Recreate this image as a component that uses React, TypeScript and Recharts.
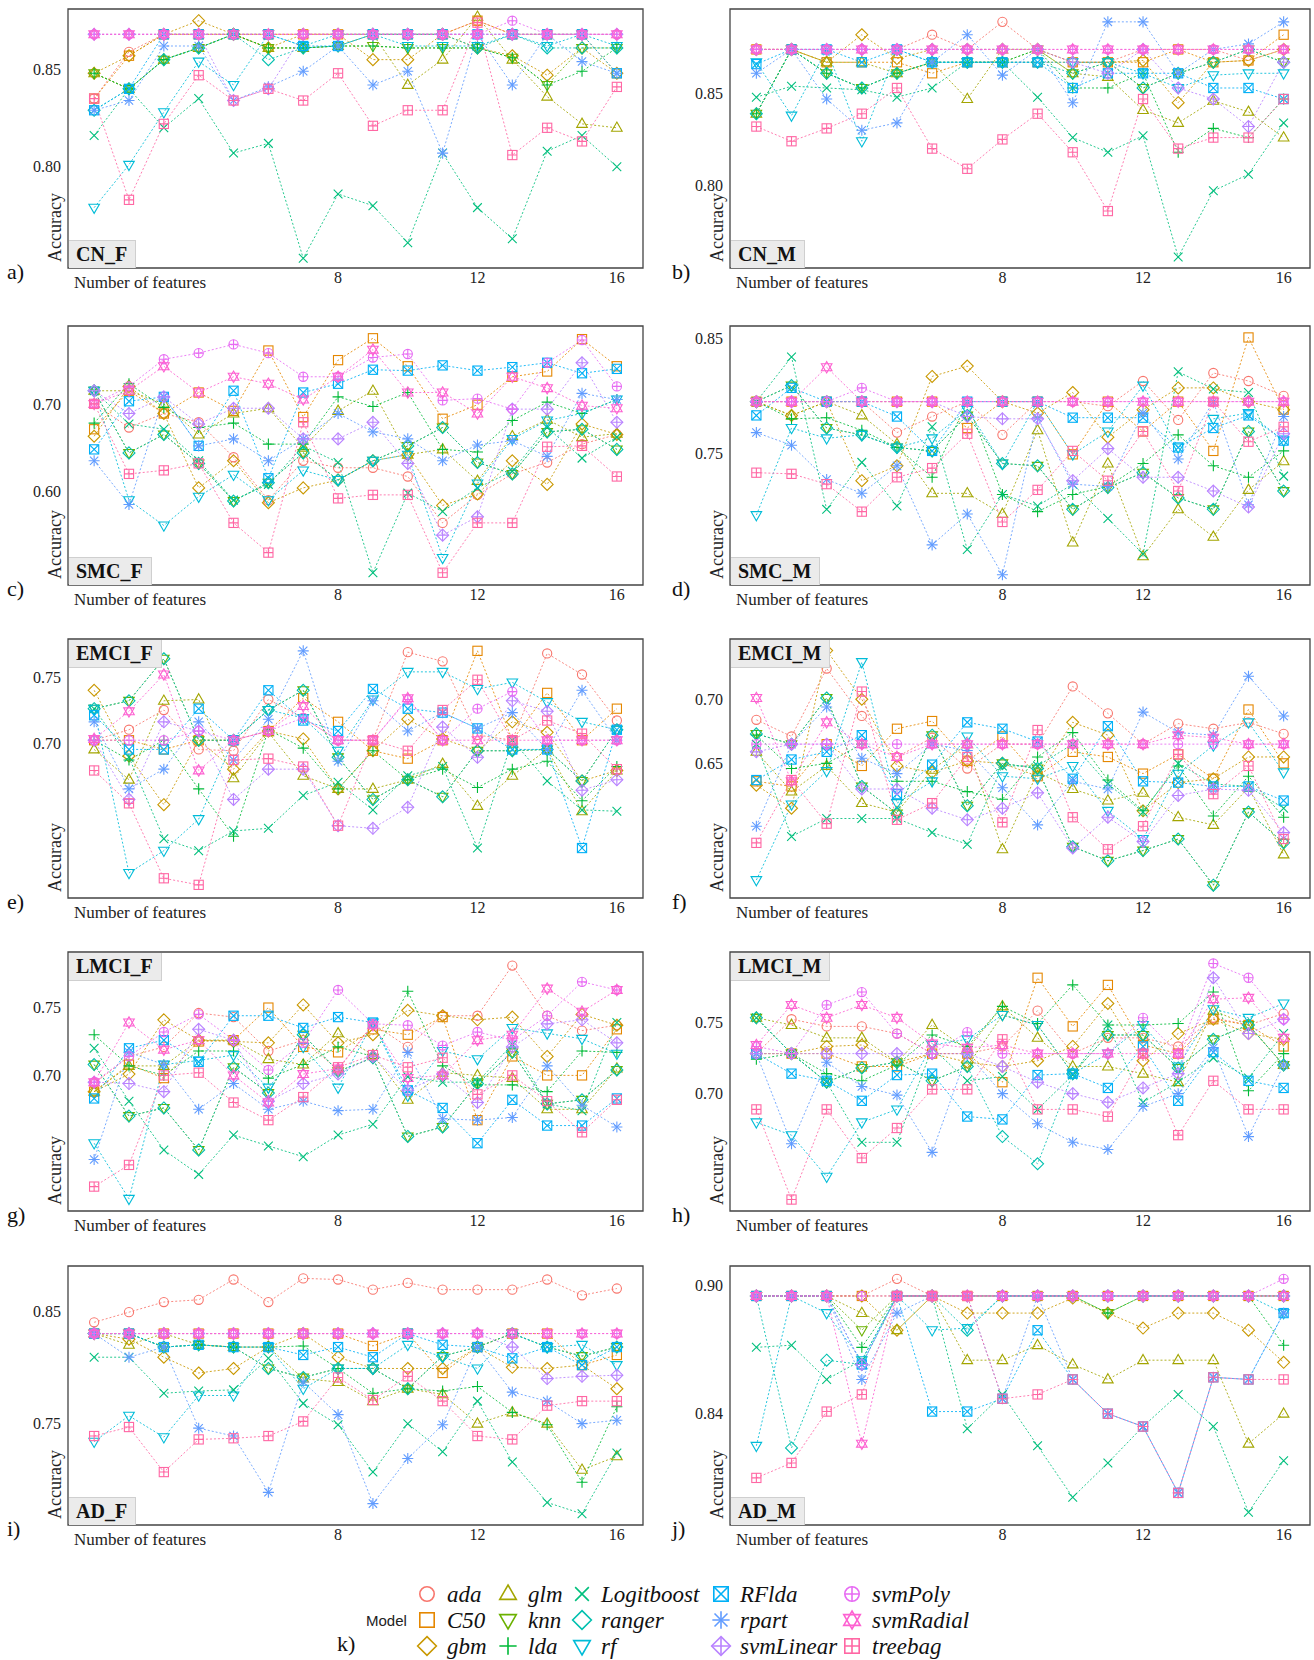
import React from "react"
import { LineChart, Line, XAxis, YAxis, ReferenceArea } from "recharts"

const MODELS = ["ada", "C50", "gbm", "glm", "knn", "lda", "Logitboost", "ranger", "rf", "RFlda", "rpart", "svmLinear", "svmPoly", "svmRadial", "treebag"]
const COLORS = ["#F8766D", "#E58700", "#C99800", "#A3A500", "#6BB100", "#00BA38", "#00BF7D", "#00C0AF", "#00BCD8", "#00B0F6", "#619CFF", "#B983FF", "#E76BF3", "#FD61D1", "#FF67A4"]
const SHAPES = ["circle", "square", "diamond", "triUp", "triDown", "plus", "cross", "diamond", "triDown", "squareX", "asterisk", "diamondPlus", "circlePlus", "star", "squarePlus"]
const FEATURES = [1, 2, 3, 4, 5, 6, 7, 8, 9, 10, 11, 12, 13, 14, 15, 16]
const X_TICKS = [8, 12, 16]

// accuracy per model (rows in MODELS order), one column per number of features
const CN_F = [
  [0.835, 0.859, 0.868, 0.868, 0.868, 0.868, 0.868, 0.868, 0.868, 0.868, 0.868, 0.875, 0.868, 0.868, 0.868, 0.868],
  [0.835, 0.857, 0.868, 0.868, 0.868, 0.868, 0.868, 0.868, 0.868, 0.868, 0.868, 0.875, 0.868, 0.868, 0.868, 0.848],
  [0.848, 0.857, 0.868, 0.875, 0.868, 0.861, 0.868, 0.868, 0.855, 0.855, 0.868, 0.861, 0.857, 0.847, 0.861, 0.848],
  [0.848, 0.840, 0.855, 0.861, 0.868, 0.861, 0.861, 0.862, 0.868, 0.842, 0.855, 0.877, 0.855, 0.836, 0.822, 0.820],
  [0.848, 0.840, 0.855, 0.861, 0.868, 0.861, 0.861, 0.862, 0.862, 0.861, 0.861, 0.861, 0.856, 0.842, 0.861, 0.861],
  [0.848, 0.840, 0.855, 0.861, 0.868, 0.861, 0.861, 0.862, 0.862, 0.861, 0.861, 0.861, 0.856, 0.842, 0.849, 0.861],
  [0.816, 0.840, 0.820, 0.835, 0.807, 0.812, 0.753, 0.786, 0.780, 0.761, 0.807, 0.779, 0.763, 0.808, 0.816, 0.800],
  [0.829, 0.840, 0.855, 0.861, 0.868, 0.855, 0.861, 0.862, 0.868, 0.868, 0.868, 0.861, 0.868, 0.861, 0.861, 0.861],
  [0.779, 0.801, 0.828, 0.854, 0.842, 0.868, 0.862, 0.868, 0.868, 0.862, 0.862, 0.862, 0.868, 0.862, 0.868, 0.862],
  [0.829, 0.840, 0.868, 0.868, 0.868, 0.868, 0.862, 0.862, 0.868, 0.868, 0.868, 0.868, 0.868, 0.868, 0.868, 0.848],
  [0.829, 0.834, 0.862, 0.862, 0.834, 0.841, 0.849, 0.862, 0.842, 0.849, 0.807, 0.868, 0.842, 0.868, 0.854, 0.848],
  [0.868, 0.868, 0.868, 0.868, 0.834, 0.840, 0.868, 0.868, 0.868, 0.868, 0.868, 0.868, 0.868, 0.868, 0.868, 0.868],
  [0.868, 0.868, 0.868, 0.868, 0.868, 0.868, 0.868, 0.868, 0.868, 0.868, 0.868, 0.868, 0.875, 0.868, 0.868, 0.868],
  [0.868, 0.868, 0.868, 0.868, 0.868, 0.868, 0.868, 0.868, 0.868, 0.868, 0.868, 0.868, 0.868, 0.868, 0.868, 0.868],
  [0.835, 0.783, 0.822, 0.847, 0.834, 0.840, 0.834, 0.848, 0.821, 0.829, 0.829, 0.874, 0.806, 0.820, 0.813, 0.841],
]

const CN_M = [
  [0.874, 0.874, 0.874, 0.874, 0.874, 0.882, 0.874, 0.889, 0.874, 0.867, 0.867, 0.874, 0.874, 0.874, 0.868, 0.874],
  [0.874, 0.874, 0.867, 0.867, 0.867, 0.861, 0.867, 0.867, 0.867, 0.867, 0.867, 0.867, 0.874, 0.867, 0.868, 0.882],
  [0.874, 0.874, 0.867, 0.882, 0.869, 0.874, 0.874, 0.874, 0.874, 0.867, 0.867, 0.868, 0.845, 0.867, 0.868, 0.874],
  [0.839, 0.874, 0.867, 0.867, 0.861, 0.867, 0.847, 0.874, 0.874, 0.861, 0.859, 0.841, 0.834, 0.846, 0.840, 0.826],
  [0.839, 0.874, 0.861, 0.853, 0.861, 0.867, 0.867, 0.867, 0.874, 0.861, 0.867, 0.853, 0.861, 0.867, 0.874, 0.867],
  [0.839, 0.874, 0.861, 0.853, 0.861, 0.867, 0.867, 0.867, 0.874, 0.853, 0.853, 0.861, 0.818, 0.831, 0.826, 0.847],
  [0.848, 0.854, 0.853, 0.852, 0.848, 0.853, 0.867, 0.867, 0.848, 0.826, 0.818, 0.827, 0.761, 0.797, 0.806, 0.834],
  [0.839, 0.874, 0.861, 0.853, 0.861, 0.867, 0.867, 0.867, 0.867, 0.861, 0.867, 0.853, 0.861, 0.867, 0.874, 0.867],
  [0.867, 0.838, 0.874, 0.824, 0.874, 0.867, 0.867, 0.867, 0.867, 0.867, 0.867, 0.861, 0.853, 0.860, 0.861, 0.861],
  [0.866, 0.874, 0.874, 0.867, 0.874, 0.867, 0.867, 0.867, 0.867, 0.853, 0.861, 0.861, 0.861, 0.853, 0.853, 0.847],
  [0.861, 0.874, 0.847, 0.830, 0.834, 0.867, 0.882, 0.860, 0.874, 0.845, 0.889, 0.889, 0.861, 0.874, 0.877, 0.889],
  [0.874, 0.874, 0.874, 0.874, 0.874, 0.874, 0.874, 0.874, 0.874, 0.867, 0.861, 0.874, 0.853, 0.847, 0.832, 0.867],
  [0.874, 0.874, 0.874, 0.874, 0.874, 0.874, 0.874, 0.874, 0.874, 0.874, 0.874, 0.874, 0.874, 0.874, 0.874, 0.874],
  [0.874, 0.874, 0.874, 0.874, 0.874, 0.874, 0.874, 0.874, 0.874, 0.874, 0.874, 0.874, 0.874, 0.874, 0.874, 0.874],
  [0.832, 0.824, 0.831, 0.839, 0.853, 0.820, 0.809, 0.825, 0.839, 0.818, 0.786, 0.847, 0.820, 0.826, 0.826, 0.847],
]

const SMC_F = [
  [0.700, 0.673, 0.689, 0.679, 0.639, 0.590, 0.635, 0.627, 0.627, 0.617, 0.564, 0.596, 0.620, 0.633, 0.654, 0.665],
  [0.671, 0.715, 0.689, 0.713, 0.692, 0.761, 0.685, 0.750, 0.775, 0.743, 0.683, 0.699, 0.731, 0.737, 0.774, 0.743],
  [0.663, 0.720, 0.689, 0.604, 0.635, 0.587, 0.604, 0.613, 0.635, 0.642, 0.584, 0.597, 0.635, 0.608, 0.677, 0.665],
  [0.715, 0.715, 0.700, 0.665, 0.689, 0.695, 0.650, 0.692, 0.715, 0.642, 0.648, 0.612, 0.663, 0.682, 0.662, 0.666],
  [0.715, 0.644, 0.665, 0.632, 0.589, 0.610, 0.644, 0.613, 0.635, 0.652, 0.673, 0.633, 0.620, 0.668, 0.671, 0.648],
  [0.678, 0.723, 0.696, 0.673, 0.678, 0.654, 0.654, 0.708, 0.697, 0.713, 0.648, 0.645, 0.681, 0.702, 0.689, 0.705],
  [0.715, 0.677, 0.671, 0.635, 0.590, 0.608, 0.652, 0.633, 0.507, 0.598, 0.577, 0.604, 0.623, 0.673, 0.638, 0.662],
  [0.715, 0.644, 0.665, 0.632, 0.589, 0.610, 0.644, 0.613, 0.635, 0.652, 0.673, 0.633, 0.620, 0.668, 0.671, 0.648],
  [0.715, 0.590, 0.561, 0.594, 0.619, 0.590, 0.624, 0.613, 0.635, 0.642, 0.524, 0.609, 0.660, 0.681, 0.689, 0.705],
  [0.648, 0.703, 0.708, 0.652, 0.715, 0.615, 0.713, 0.723, 0.739, 0.738, 0.744, 0.738, 0.742, 0.747, 0.735, 0.740],
  [0.635, 0.585, 0.708, 0.652, 0.660, 0.635, 0.660, 0.689, 0.668, 0.660, 0.635, 0.653, 0.658, 0.640, 0.712, 0.705],
  [0.715, 0.689, 0.708, 0.677, 0.695, 0.695, 0.660, 0.660, 0.679, 0.632, 0.550, 0.571, 0.694, 0.694, 0.747, 0.679],
  [0.700, 0.720, 0.751, 0.758, 0.768, 0.758, 0.731, 0.731, 0.753, 0.757, 0.704, 0.706, 0.694, 0.747, 0.773, 0.720],
  [0.700, 0.715, 0.743, 0.713, 0.731, 0.723, 0.705, 0.731, 0.762, 0.713, 0.713, 0.689, 0.731, 0.718, 0.698, 0.695],
  [0.700, 0.620, 0.624, 0.632, 0.564, 0.530, 0.679, 0.592, 0.596, 0.596, 0.507, 0.564, 0.564, 0.651, 0.652, 0.617],
]

const SMC_M = [
  [0.795, 0.795, 0.795, 0.795, 0.768, 0.782, 0.795, 0.766, 0.795, 0.795, 0.791, 0.813, 0.779, 0.820, 0.813, 0.800],
  [0.795, 0.795, 0.795, 0.795, 0.795, 0.795, 0.772, 0.795, 0.795, 0.749, 0.795, 0.769, 0.795, 0.752, 0.851, 0.788],
  [0.795, 0.783, 0.795, 0.726, 0.739, 0.817, 0.826, 0.795, 0.785, 0.803, 0.764, 0.788, 0.807, 0.807, 0.795, 0.788],
  [0.795, 0.783, 0.795, 0.783, 0.758, 0.715, 0.715, 0.697, 0.770, 0.672, 0.741, 0.660, 0.701, 0.677, 0.718, 0.743],
  [0.795, 0.809, 0.772, 0.766, 0.755, 0.752, 0.783, 0.741, 0.739, 0.701, 0.720, 0.733, 0.711, 0.701, 0.769, 0.717],
  [0.795, 0.780, 0.781, 0.770, 0.755, 0.729, 0.795, 0.714, 0.699, 0.714, 0.721, 0.741, 0.766, 0.739, 0.729, 0.752],
  [0.795, 0.834, 0.701, 0.742, 0.704, 0.773, 0.666, 0.714, 0.704, 0.723, 0.693, 0.662, 0.821, 0.806, 0.803, 0.730],
  [0.795, 0.809, 0.772, 0.766, 0.755, 0.752, 0.783, 0.741, 0.739, 0.701, 0.720, 0.733, 0.711, 0.701, 0.769, 0.717],
  [0.696, 0.772, 0.763, 0.766, 0.755, 0.763, 0.788, 0.741, 0.795, 0.749, 0.769, 0.809, 0.755, 0.780, 0.785, 0.761],
  [0.783, 0.807, 0.795, 0.795, 0.782, 0.752, 0.795, 0.795, 0.795, 0.781, 0.781, 0.781, 0.755, 0.772, 0.783, 0.761],
  [0.768, 0.757, 0.727, 0.715, 0.739, 0.670, 0.697, 0.644, 0.781, 0.723, 0.721, 0.785, 0.745, 0.795, 0.705, 0.782],
  [0.795, 0.795, 0.795, 0.795, 0.795, 0.795, 0.782, 0.780, 0.780, 0.726, 0.754, 0.729, 0.729, 0.717, 0.703, 0.767],
  [0.795, 0.795, 0.795, 0.807, 0.795, 0.795, 0.795, 0.795, 0.795, 0.795, 0.795, 0.795, 0.795, 0.795, 0.795, 0.795],
  [0.795, 0.795, 0.825, 0.795, 0.795, 0.795, 0.795, 0.795, 0.795, 0.795, 0.795, 0.795, 0.795, 0.795, 0.795, 0.795],
  [0.733, 0.732, 0.723, 0.699, 0.729, 0.737, 0.767, 0.690, 0.718, 0.752, 0.726, 0.769, 0.717, 0.795, 0.760, 0.773],
]

const EMCI_F = [
  [0.702, 0.710, 0.725, 0.695, 0.694, 0.733, 0.719, 0.702, 0.702, 0.769, 0.762, 0.706, 0.702, 0.768, 0.752, 0.717],
  [0.702, 0.702, 0.695, 0.702, 0.702, 0.709, 0.734, 0.716, 0.694, 0.688, 0.702, 0.770, 0.702, 0.738, 0.702, 0.726],
  [0.740, 0.690, 0.653, 0.702, 0.680, 0.709, 0.703, 0.665, 0.694, 0.718, 0.703, 0.694, 0.716, 0.708, 0.671, 0.679],
  [0.695, 0.672, 0.732, 0.733, 0.673, 0.708, 0.675, 0.665, 0.665, 0.672, 0.684, 0.652, 0.675, 0.695, 0.648, 0.679],
  [0.726, 0.732, 0.764, 0.702, 0.702, 0.725, 0.740, 0.689, 0.657, 0.672, 0.659, 0.694, 0.694, 0.695, 0.671, 0.710],
  [0.702, 0.687, 0.702, 0.665, 0.629, 0.710, 0.696, 0.665, 0.694, 0.672, 0.680, 0.666, 0.680, 0.686, 0.656, 0.682],
  [0.726, 0.689, 0.627, 0.618, 0.633, 0.635, 0.660, 0.670, 0.649, 0.675, 0.682, 0.620, 0.702, 0.671, 0.649, 0.648],
  [0.726, 0.732, 0.764, 0.702, 0.702, 0.725, 0.740, 0.689, 0.657, 0.672, 0.659, 0.694, 0.694, 0.695, 0.671, 0.710],
  [0.726, 0.601, 0.618, 0.642, 0.702, 0.725, 0.719, 0.694, 0.733, 0.754, 0.754, 0.741, 0.746, 0.731, 0.716, 0.710],
  [0.721, 0.695, 0.695, 0.726, 0.702, 0.740, 0.717, 0.709, 0.741, 0.726, 0.723, 0.711, 0.695, 0.695, 0.620, 0.710],
  [0.716, 0.665, 0.680, 0.716, 0.687, 0.718, 0.770, 0.686, 0.732, 0.709, 0.723, 0.711, 0.723, 0.695, 0.740, 0.702],
  [0.702, 0.657, 0.716, 0.709, 0.657, 0.680, 0.680, 0.637, 0.635, 0.651, 0.712, 0.689, 0.732, 0.724, 0.664, 0.672],
  [0.702, 0.702, 0.702, 0.709, 0.702, 0.709, 0.719, 0.702, 0.702, 0.733, 0.702, 0.726, 0.739, 0.702, 0.702, 0.702],
  [0.703, 0.724, 0.752, 0.679, 0.702, 0.709, 0.728, 0.702, 0.702, 0.734, 0.702, 0.702, 0.702, 0.702, 0.702, 0.702],
  [0.679, 0.654, 0.597, 0.592, 0.687, 0.688, 0.682, 0.637, 0.702, 0.694, 0.725, 0.748, 0.702, 0.717, 0.707, 0.680],
]

const EMCI_M = [
  [0.684, 0.671, 0.724, 0.687, 0.655, 0.670, 0.646, 0.665, 0.665, 0.710, 0.689, 0.665, 0.681, 0.677, 0.682, 0.673],
  [0.636, 0.632, 0.665, 0.648, 0.677, 0.683, 0.652, 0.671, 0.640, 0.659, 0.655, 0.642, 0.657, 0.638, 0.692, 0.650],
  [0.633, 0.615, 0.738, 0.700, 0.648, 0.643, 0.652, 0.650, 0.640, 0.682, 0.672, 0.613, 0.635, 0.638, 0.655, 0.655],
  [0.659, 0.628, 0.648, 0.619, 0.612, 0.645, 0.665, 0.583, 0.643, 0.630, 0.621, 0.627, 0.608, 0.602, 0.631, 0.579],
  [0.673, 0.665, 0.701, 0.632, 0.611, 0.672, 0.617, 0.650, 0.646, 0.585, 0.574, 0.582, 0.591, 0.555, 0.612, 0.588],
  [0.672, 0.646, 0.650, 0.665, 0.636, 0.636, 0.628, 0.622, 0.655, 0.674, 0.637, 0.613, 0.648, 0.609, 0.640, 0.608],
  [0.665, 0.593, 0.607, 0.607, 0.607, 0.596, 0.587, 0.648, 0.648, 0.665, 0.634, 0.612, 0.650, 0.634, 0.632, 0.615],
  [0.673, 0.665, 0.701, 0.632, 0.611, 0.672, 0.617, 0.650, 0.646, 0.585, 0.574, 0.582, 0.591, 0.555, 0.612, 0.588],
  [0.559, 0.618, 0.644, 0.729, 0.619, 0.636, 0.671, 0.640, 0.638, 0.648, 0.613, 0.591, 0.642, 0.664, 0.682, 0.643],
  [0.637, 0.653, 0.659, 0.672, 0.626, 0.649, 0.682, 0.677, 0.667, 0.638, 0.679, 0.636, 0.635, 0.632, 0.632, 0.621],
  [0.601, 0.665, 0.694, 0.654, 0.642, 0.665, 0.660, 0.631, 0.602, 0.636, 0.630, 0.690, 0.674, 0.672, 0.718, 0.687],
  [0.659, 0.665, 0.665, 0.630, 0.630, 0.615, 0.606, 0.615, 0.627, 0.584, 0.608, 0.589, 0.625, 0.630, 0.629, 0.596],
  [0.665, 0.665, 0.665, 0.665, 0.665, 0.665, 0.665, 0.665, 0.665, 0.665, 0.665, 0.665, 0.665, 0.665, 0.665, 0.665],
  [0.701, 0.636, 0.682, 0.665, 0.655, 0.665, 0.665, 0.665, 0.665, 0.665, 0.665, 0.665, 0.672, 0.670, 0.665, 0.665],
  [0.588, 0.637, 0.603, 0.706, 0.606, 0.619, 0.655, 0.604, 0.676, 0.608, 0.583, 0.601, 0.657, 0.626, 0.648, 0.591],
]

const LMCI_F = [
  [0.694, 0.714, 0.721, 0.746, 0.743, 0.718, 0.726, 0.704, 0.738, 0.721, 0.744, 0.744, 0.781, 0.744, 0.733, 0.737],
  [0.688, 0.708, 0.698, 0.725, 0.726, 0.750, 0.721, 0.717, 0.734, 0.730, 0.743, 0.667, 0.714, 0.700, 0.700, 0.734],
  [0.688, 0.701, 0.741, 0.726, 0.725, 0.724, 0.752, 0.724, 0.730, 0.748, 0.744, 0.741, 0.743, 0.714, 0.745, 0.737],
  [0.688, 0.707, 0.707, 0.726, 0.726, 0.712, 0.708, 0.731, 0.715, 0.682, 0.702, 0.700, 0.698, 0.675, 0.675, 0.705],
  [0.708, 0.670, 0.676, 0.645, 0.706, 0.687, 0.730, 0.703, 0.713, 0.655, 0.662, 0.694, 0.717, 0.679, 0.682, 0.704],
  [0.730, 0.707, 0.700, 0.718, 0.718, 0.698, 0.708, 0.721, 0.714, 0.762, 0.707, 0.693, 0.693, 0.688, 0.718, 0.717],
  [0.720, 0.681, 0.645, 0.627, 0.656, 0.648, 0.640, 0.656, 0.664, 0.699, 0.695, 0.695, 0.723, 0.679, 0.674, 0.739],
  [0.708, 0.670, 0.676, 0.645, 0.706, 0.687, 0.730, 0.703, 0.713, 0.655, 0.662, 0.694, 0.717, 0.679, 0.682, 0.704],
  [0.650, 0.609, 0.708, 0.711, 0.715, 0.691, 0.721, 0.691, 0.739, 0.685, 0.718, 0.712, 0.735, 0.731, 0.727, 0.716],
  [0.683, 0.720, 0.726, 0.710, 0.744, 0.744, 0.735, 0.743, 0.739, 0.689, 0.676, 0.650, 0.682, 0.663, 0.663, 0.683],
  [0.638, 0.717, 0.708, 0.675, 0.694, 0.675, 0.681, 0.674, 0.675, 0.717, 0.668, 0.667, 0.669, 0.707, 0.678, 0.662],
  [0.695, 0.694, 0.688, 0.734, 0.726, 0.681, 0.694, 0.701, 0.714, 0.689, 0.701, 0.680, 0.721, 0.738, 0.741, 0.724],
  [0.695, 0.714, 0.732, 0.745, 0.726, 0.704, 0.724, 0.763, 0.738, 0.737, 0.722, 0.732, 0.726, 0.744, 0.769, 0.763],
  [0.695, 0.739, 0.719, 0.726, 0.700, 0.680, 0.701, 0.705, 0.737, 0.698, 0.700, 0.726, 0.730, 0.764, 0.747, 0.763],
  [0.618, 0.634, 0.700, 0.702, 0.680, 0.667, 0.684, 0.706, 0.715, 0.706, 0.713, 0.686, 0.700, 0.681, 0.658, 0.682],
]

const LMCI_M = [
  [0.728, 0.752, 0.747, 0.747, 0.742, 0.728, 0.728, 0.733, 0.758, 0.728, 0.739, 0.739, 0.733, 0.753, 0.748, 0.756],
  [0.728, 0.728, 0.728, 0.719, 0.719, 0.728, 0.728, 0.708, 0.781, 0.747, 0.776, 0.734, 0.728, 0.752, 0.748, 0.733],
  [0.728, 0.728, 0.733, 0.734, 0.722, 0.728, 0.722, 0.719, 0.723, 0.733, 0.763, 0.723, 0.742, 0.752, 0.742, 0.738],
  [0.753, 0.748, 0.739, 0.739, 0.722, 0.748, 0.731, 0.761, 0.739, 0.719, 0.719, 0.714, 0.708, 0.758, 0.748, 0.720],
  [0.753, 0.728, 0.708, 0.718, 0.722, 0.709, 0.719, 0.755, 0.748, 0.714, 0.741, 0.741, 0.718, 0.738, 0.748, 0.720],
  [0.724, 0.728, 0.714, 0.709, 0.720, 0.741, 0.733, 0.761, 0.749, 0.776, 0.748, 0.748, 0.749, 0.771, 0.702, 0.728],
  [0.753, 0.728, 0.708, 0.666, 0.666, 0.732, 0.709, 0.712, 0.689, 0.713, 0.748, 0.694, 0.708, 0.725, 0.711, 0.742],
  [0.753, 0.728, 0.708, 0.718, 0.722, 0.709, 0.719, 0.670, 0.651, 0.714, 0.741, 0.741, 0.718, 0.738, 0.748, 0.720],
  [0.680, 0.671, 0.642, 0.680, 0.689, 0.734, 0.738, 0.755, 0.748, 0.714, 0.728, 0.748, 0.719, 0.759, 0.753, 0.763],
  [0.728, 0.714, 0.709, 0.695, 0.713, 0.714, 0.684, 0.682, 0.713, 0.714, 0.704, 0.733, 0.695, 0.729, 0.709, 0.704],
  [0.728, 0.665, 0.722, 0.705, 0.699, 0.659, 0.728, 0.700, 0.679, 0.666, 0.661, 0.691, 0.700, 0.732, 0.670, 0.720],
  [0.728, 0.728, 0.728, 0.728, 0.728, 0.728, 0.728, 0.719, 0.708, 0.700, 0.694, 0.704, 0.714, 0.781, 0.742, 0.752],
  [0.733, 0.728, 0.762, 0.771, 0.742, 0.728, 0.743, 0.728, 0.728, 0.728, 0.728, 0.753, 0.728, 0.791, 0.781, 0.752],
  [0.734, 0.762, 0.753, 0.762, 0.753, 0.735, 0.732, 0.734, 0.728, 0.728, 0.728, 0.728, 0.728, 0.766, 0.767, 0.739],
  [0.689, 0.626, 0.689, 0.655, 0.676, 0.703, 0.703, 0.738, 0.689, 0.689, 0.684, 0.728, 0.671, 0.709, 0.689, 0.689],
]

const AD_F = [
  [0.840, 0.849, 0.858, 0.860, 0.878, 0.858, 0.879, 0.878, 0.869, 0.875, 0.869, 0.869, 0.869, 0.878, 0.864, 0.870],
  [0.830, 0.830, 0.830, 0.830, 0.830, 0.830, 0.830, 0.830, 0.819, 0.830, 0.795, 0.818, 0.830, 0.830, 0.802, 0.811],
  [0.830, 0.825, 0.809, 0.795, 0.799, 0.818, 0.830, 0.809, 0.799, 0.799, 0.799, 0.818, 0.800, 0.799, 0.802, 0.781],
  [0.830, 0.820, 0.830, 0.820, 0.818, 0.818, 0.790, 0.787, 0.770, 0.781, 0.776, 0.750, 0.760, 0.750, 0.709, 0.721],
  [0.830, 0.830, 0.818, 0.820, 0.818, 0.799, 0.791, 0.799, 0.799, 0.781, 0.810, 0.818, 0.830, 0.818, 0.810, 0.818],
  [0.830, 0.830, 0.818, 0.820, 0.818, 0.818, 0.819, 0.799, 0.777, 0.781, 0.779, 0.783, 0.760, 0.749, 0.698, 0.765],
  [0.809, 0.809, 0.777, 0.779, 0.780, 0.808, 0.768, 0.749, 0.707, 0.750, 0.725, 0.770, 0.716, 0.680, 0.670, 0.724],
  [0.830, 0.830, 0.818, 0.820, 0.818, 0.799, 0.791, 0.799, 0.799, 0.781, 0.810, 0.818, 0.830, 0.818, 0.810, 0.818],
  [0.734, 0.757, 0.738, 0.775, 0.775, 0.818, 0.781, 0.799, 0.799, 0.820, 0.809, 0.799, 0.830, 0.818, 0.820, 0.802],
  [0.830, 0.830, 0.818, 0.820, 0.818, 0.818, 0.811, 0.818, 0.809, 0.830, 0.820, 0.818, 0.808, 0.818, 0.802, 0.818],
  [0.830, 0.809, 0.818, 0.746, 0.739, 0.689, 0.787, 0.758, 0.679, 0.719, 0.749, 0.818, 0.778, 0.770, 0.750, 0.753],
  [0.830, 0.830, 0.830, 0.830, 0.830, 0.830, 0.830, 0.830, 0.830, 0.830, 0.830, 0.830, 0.818, 0.790, 0.792, 0.793],
  [0.830, 0.830, 0.830, 0.830, 0.830, 0.830, 0.830, 0.830, 0.830, 0.830, 0.830, 0.830, 0.830, 0.830, 0.830, 0.830],
  [0.830, 0.830, 0.830, 0.830, 0.830, 0.830, 0.830, 0.830, 0.830, 0.830, 0.830, 0.830, 0.830, 0.830, 0.830, 0.830],
  [0.739, 0.747, 0.707, 0.736, 0.737, 0.739, 0.752, 0.791, 0.771, 0.792, 0.770, 0.739, 0.736, 0.766, 0.770, 0.770],
]

const AD_M = [
  [0.895, 0.895, 0.895, 0.895, 0.903, 0.895, 0.895, 0.895, 0.895, 0.895, 0.895, 0.895, 0.895, 0.895, 0.895, 0.895],
  [0.895, 0.895, 0.895, 0.895, 0.895, 0.895, 0.895, 0.895, 0.895, 0.895, 0.895, 0.895, 0.895, 0.895, 0.895, 0.895],
  [0.895, 0.895, 0.895, 0.895, 0.879, 0.895, 0.887, 0.887, 0.887, 0.894, 0.887, 0.880, 0.887, 0.887, 0.879, 0.864],
  [0.895, 0.895, 0.895, 0.887, 0.879, 0.895, 0.865, 0.865, 0.872, 0.863, 0.856, 0.865, 0.865, 0.865, 0.826, 0.840],
  [0.895, 0.895, 0.895, 0.879, 0.895, 0.895, 0.895, 0.895, 0.895, 0.895, 0.887, 0.895, 0.895, 0.895, 0.895, 0.895],
  [0.895, 0.895, 0.895, 0.871, 0.895, 0.895, 0.895, 0.895, 0.895, 0.895, 0.887, 0.895, 0.895, 0.895, 0.895, 0.872],
  [0.871, 0.872, 0.856, 0.865, 0.895, 0.895, 0.833, 0.849, 0.825, 0.801, 0.817, 0.834, 0.849, 0.834, 0.794, 0.818],
  [0.895, 0.824, 0.865, 0.863, 0.895, 0.895, 0.879, 0.895, 0.895, 0.895, 0.895, 0.895, 0.895, 0.895, 0.895, 0.895],
  [0.825, 0.895, 0.887, 0.865, 0.895, 0.879, 0.880, 0.895, 0.895, 0.895, 0.895, 0.895, 0.895, 0.895, 0.895, 0.887],
  [0.895, 0.895, 0.895, 0.863, 0.895, 0.841, 0.841, 0.847, 0.879, 0.856, 0.840, 0.834, 0.803, 0.857, 0.856, 0.887],
  [0.895, 0.895, 0.895, 0.856, 0.887, 0.895, 0.895, 0.847, 0.895, 0.856, 0.840, 0.834, 0.803, 0.857, 0.856, 0.887],
  [0.895, 0.895, 0.895, 0.863, 0.895, 0.895, 0.895, 0.895, 0.895, 0.895, 0.895, 0.895, 0.895, 0.895, 0.895, 0.895],
  [0.895, 0.895, 0.895, 0.895, 0.895, 0.895, 0.895, 0.895, 0.895, 0.895, 0.895, 0.895, 0.895, 0.895, 0.895, 0.903],
  [0.895, 0.895, 0.895, 0.826, 0.895, 0.895, 0.895, 0.895, 0.895, 0.895, 0.895, 0.895, 0.895, 0.895, 0.895, 0.895],
  [0.810, 0.817, 0.841, 0.849, 0.895, 0.895, 0.895, 0.847, 0.849, 0.856, 0.840, 0.834, 0.803, 0.857, 0.856, 0.856],
]

const SERIF = '"Liberation Serif", "Times New Roman", serif'
const SANS = '"Liberation Sans", Arial, sans-serif'

type PanelDef = {
  letter: string
  name: string
  acc: number[][]
  domain: [number, number]
  ticks: number[]
  col: number
  row: number
  tagTop: boolean
}

const PANELS: PanelDef[] = [
  { letter: "a)", name: "CN_F", acc: CN_F, domain: [0.748, 0.881], ticks: [0.8, 0.85], col: 0, row: 0, tagTop: false },
  { letter: "b)", name: "CN_M", acc: CN_M, domain: [0.755, 0.896], ticks: [0.8, 0.85], col: 1, row: 0, tagTop: false },
  { letter: "c)", name: "SMC_F", acc: SMC_F, domain: [0.493, 0.789], ticks: [0.6, 0.7], col: 0, row: 1, tagTop: false },
  { letter: "d)", name: "SMC_M", acc: SMC_M, domain: [0.635, 0.861], ticks: [0.75, 0.85], col: 1, row: 1, tagTop: false },
  { letter: "e)", name: "EMCI_F", acc: EMCI_F, domain: [0.582, 0.779], ticks: [0.7, 0.75], col: 0, row: 2, tagTop: true },
  { letter: "f)", name: "EMCI_M", acc: EMCI_M, domain: [0.545, 0.747], ticks: [0.65, 0.7], col: 1, row: 2, tagTop: true },
  { letter: "g)", name: "LMCI_F", acc: LMCI_F, domain: [0.600, 0.791], ticks: [0.7, 0.75], col: 0, row: 3, tagTop: true },
  { letter: "h)", name: "LMCI_M", acc: LMCI_M, domain: [0.618, 0.799], ticks: [0.7, 0.75], col: 1, row: 3, tagTop: true },
  { letter: "i)", name: "AD_F", acc: AD_F, domain: [0.660, 0.890], ticks: [0.75, 0.85], col: 0, row: 4, tagTop: false },
  { letter: "j)", name: "AD_M", acc: AD_M, domain: [0.788, 0.909], ticks: [0.84, 0.9], col: 1, row: 4, tagTop: false },
]

const ROW_TOP = [9, 326, 639, 952, 1266]
const BOX_H = 259
const COLS = [
  { left: 0, width: 656, axisW: 68, right: 13, letterX: 7 },
  { left: 657, width: 657, axisW: 73, right: 4, letterX: 672 },
]

function Marker({ cx, cy, shape, color, s = 4.6, sw = 1.1 }: { cx: number; cy: number; shape: string; color: string; s?: number; sw?: number }) {
  const p = { fill: "none", stroke: color, strokeWidth: sw }
  const d = s * 1.3
  const sq = <rect x={cx - s} y={cy - s} width={2 * s} height={2 * s} {...p} />
  const dia = <polygon points={`${cx},${cy - d} ${cx + d},${cy} ${cx},${cy + d} ${cx - d},${cy}`} {...p} />
  const up = <polygon points={`${cx},${cy - s * 1.25} ${cx + s * 1.15},${cy + s * 0.75} ${cx - s * 1.15},${cy + s * 0.75}`} {...p} />
  const down = <polygon points={`${cx},${cy + s * 1.25} ${cx + s * 1.15},${cy - s * 0.75} ${cx - s * 1.15},${cy - s * 0.75}`} {...p} />
  const plus = (r: number) => <path d={`M${cx - r},${cy}H${cx + r}M${cx},${cy - r}V${cy + r}`} {...p} />
  const cross = (r: number) => <path d={`M${cx - r},${cy - r}L${cx + r},${cy + r}M${cx - r},${cy + r}L${cx + r},${cy - r}`} {...p} />
  switch (shape) {
    case "circle":
      return <circle cx={cx} cy={cy} r={s} {...p} />
    case "square":
      return sq
    case "diamond":
      return dia
    case "triUp":
      return up
    case "triDown":
      return down
    case "plus":
      return plus(s * 1.2)
    case "cross":
      return cross(s * 0.95)
    case "squareX":
      return <g>{sq}{cross(s)}</g>
    case "asterisk":
      return <g>{plus(s * 1.2)}{cross(s * 0.9)}</g>
    case "diamondPlus":
      return <g>{dia}{plus(d)}</g>
    case "circlePlus":
      return <g><circle cx={cx} cy={cy} r={s} {...p} />{plus(s)}</g>
    case "star":
      return <g>{up}{down}</g>
    default:
      return <g>{sq}{plus(s)}</g>
  }
}

function Panel({ p }: { p: PanelDef }) {
  const c = COLS[p.col]
  const boxTop = ROW_TOP[p.row]
  const boxLeft = c.left + c.axisW
  const boxBottom = boxTop + BOX_H
  const rows = FEATURES.map((f, i) => {
    const r: Record<string, number> = { f }
    MODELS.forEach((m, k) => {
      r[m] = p.acc[k][i]
    })
    return r
  })
  const tickStyle = { fontSize: 16, fontFamily: SERIF, fill: "#222" }

  return (
    <>
      <div style={{ position: "absolute", left: c.left, top: boxTop - 6 }}>
        <LineChart width={c.width} height={6 + BOX_H + 30} data={rows} margin={{ top: 6, right: c.right, bottom: 0, left: 0 }}>
          <XAxis
            dataKey="f"
            type="number"
            domain={[0.25, 16.75]}
            ticks={X_TICKS}
            allowDataOverflow
            tickLine={false}
            axisLine={false}
            tickSize={0}
            tickMargin={4}
            height={30}
            tick={tickStyle}
          />
          <YAxis
            type="number"
            domain={p.domain}
            ticks={p.ticks}
            allowDataOverflow
            tickLine={false}
            axisLine={false}
            tickSize={0}
            tickMargin={7}
            width={c.axisW}
            tick={tickStyle}
            tickFormatter={(v: number) => v.toFixed(2)}
          />
          <ReferenceArea x1={0.25} x2={16.75} y1={p.domain[0]} y2={p.domain[1]} fill="#ffffff" fillOpacity={0} stroke="#444" strokeWidth={1.3} ifOverflow="visible" />
          {MODELS.map((m, k) => (
            <Line
              key={m}
              dataKey={m}
              type="linear"
              stroke={COLORS[k]}
              strokeOpacity={0.85}
              strokeWidth={1}
              strokeDasharray="2 2"
              isAnimationActive={false}
              activeDot={false}
              dot={(d: any) => <Marker key={`${m}-${d.index}`} cx={d.cx} cy={d.cy} shape={SHAPES[k]} color={COLORS[k]} />}
            />
          ))}
        </LineChart>
      </div>
      {/* y title, bottom-aligned and rotated */}
      <div
        style={{
          position: "absolute",
          left: boxLeft - 13 - 10,
          top: boxBottom - 6,
          height: 20,
          lineHeight: "20px",
          fontSize: 18,
          fontFamily: SERIF,
          color: "#222",
          whiteSpace: "nowrap",
          transformOrigin: "0 0",
          transform: "rotate(-90deg)",
        }}
      >
        Accuracy
      </div>
      <div style={{ position: "absolute", left: boxLeft + 6, top: boxBottom + 5, fontSize: 17, lineHeight: "20px", fontFamily: SERIF, color: "#222", whiteSpace: "nowrap" }}>
        Number of features
      </div>
      <div
        style={{
          position: "absolute",
          left: boxLeft + 1,
          top: p.tagTop ? boxTop + 1 : boxBottom - 28,
          height: 27,
          lineHeight: "27px",
          padding: "0 8px 0 7px",
          background: "#EBEBEB",
          borderRight: "1px solid #cfcfcf",
          borderTop: p.tagTop ? "none" : "1px solid #cfcfcf",
          borderBottom: p.tagTop ? "1px solid #cfcfcf" : "none",
          fontSize: 20,
          fontWeight: 700,
          fontFamily: SERIF,
          color: "#111",
          whiteSpace: "nowrap",
        }}
      >
        {p.name}
      </div>
      <div style={{ position: "absolute", left: c.letterX, top: boxBottom + 4 - 13, fontSize: 22, lineHeight: "26px", fontFamily: SERIF, color: "#111" }}>
        {p.letter}
      </div>
    </>
  )
}

const LEG_MX = [427, 508, 582, 721, 852]
const LEG_TX = [447, 528, 601, 740, 872]
const LEG_Y = [1594, 1620, 1646]

function ModelLegend() {
  return (
    <svg width={1314} height={1660} style={{ position: "absolute", left: 0, top: 0, pointerEvents: "none" }}>
      <text x={366} y={1620} dominantBaseline="central" fontSize={15} fontFamily={SANS} fill="#222">
        Model
      </text>
      <text x={337} y={1643} dominantBaseline="central" fontSize={22} fontFamily={SERIF} fill="#111">
        k)
      </text>
      {MODELS.map((m, k) => {
        const col = Math.floor(k / 3)
        const row = k % 3
        return (
          <g key={m}>
            <Marker cx={LEG_MX[col]} cy={LEG_Y[row]} shape={SHAPES[k]} color={COLORS[k]} s={7.2} sw={1.6} />
            <text x={LEG_TX[col]} y={LEG_Y[row]} dominantBaseline="central" fontSize={23} fontStyle="italic" fontFamily={SERIF} fill="#111">
              {m}
            </text>
          </g>
        )
      })}
    </svg>
  )
}

export default function App() {
  return (
    <div style={{ position: "absolute", left: 0, top: 0, width: 1314, height: 1660, background: "#fff", overflow: "hidden" }}>
      {PANELS.map((p) => (
        <Panel key={p.name} p={p} />
      ))}
      <ModelLegend />
    </div>
  )
}
